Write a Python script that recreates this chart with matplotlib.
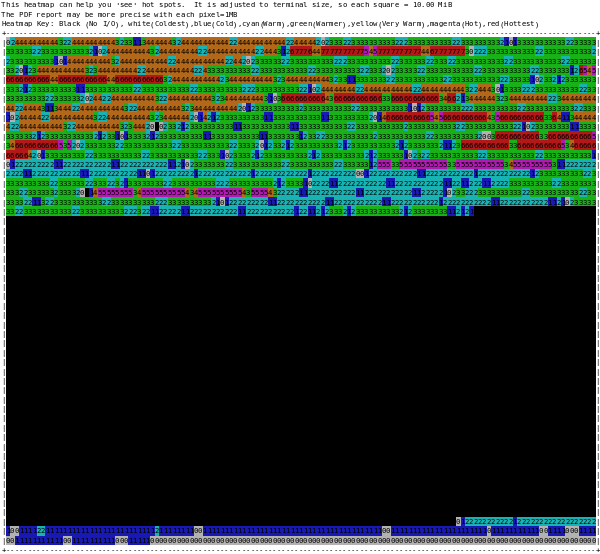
import numpy as np
import matplotlib
matplotlib.use('Agg')
import matplotlib.pyplot as plt
from matplotlib.colors import ListedColormap

header = [
    "This heatmap can help you 'see' hot spots.  It is adjusted to terminal size, so each square = 10.00 MiB",
    "The PDF report may be more precise with each pixel=1MB",
    "Heatmap Key: Black (No I/O), white(Coldest),blue(Cold),cyan(Warm),green(Warmer),yellow(Very Warm),magenta(Hot),red(Hottest)",
]

# one entry per terminal row, "4:10" = ten squares of 4, "." = no I/O
rows_top = [
    "02 4:10 3 22 4:10 3 2 33 11 3 4:6 3 2 4:11 22 4:11 22 4:5 202 333 22 3:10 222 3:10 22 3:9 2101 3:11 22 3:5",
    "3:6 22 3:11 2102 4:10 3 2 4:9 22 4:11 22 4:3 3 1 2 6 7:3 6 44 7:10 545 7:10 44 6 7:7 30 222 3:11 22 3:11 2",
    "2 3:10 101 4:10 3 2 4:11 22 4:11 22 44 202 3:6 22 3:10 222 3:10 22 3:6 22 333 22 3:11 22 3:11 22 3:6",
    "33 2012 3 4:11 323 4:9 22 4:11 22 4 3:10 22 3:11 22 3:10 22 333 202 3:5 22 3:11 22 3:11 22 3:7 12 6545",
    "6:10 44 6:11 44 6:11 32 4:11 23 4:10 323 4:10 32 33 11 3:7 22 3:11 22 3:11 22 3:5 102 33 212 3:7",
    "333 212 3:10 11 3:11 22 3:11 22 3:10 222 3:10 22 102 4:8 22 4:11 22 4:10 3 22 444 301 3333 222 3:10 22 33",
    "3:9 22 3:6 202 44 22 4:10 3 22 4:10 323 4:9 3103 6:10 43 6:11 33 6:11 34 66 213 4:6 323 4:9 22 3 4:8",
    "44 22 4:4 3 11 3 444 22 4:10 3 22 4:10 323 4:10 20 1 2 3:10 2 3:11 22 3:11 1012 3:8 222 3:10 22 3:11 22 333",
    "102 4:5 22 4:10 3 22 4:10 323 4:6 20 1 4 2 1 2 3:10 11 3:11 11 3:9 2014 6:10 545 6:10 4 3 5 6:10 33 64 11 3 4:5",
    "4 22 4:10 3 22 4:10 323 444 20.02 33 212 3:10 11 3:11 11 3:11 22 3:11 2 3:11 22 3:11 22 102 3:8 11 3:4",
    "3:6 212 3:11 212 33 101 3:4 212 3:10 11 3:11 11 3:7 1 2 33 22 3:11 2 3:11 22 3:10 200 3 6:10 33 6:10 5",
    "34 6:10 535 202 3:7 22 3:11 22 3:11 22 3:4 2012 33 212 3:10 212 3:10 212 3:7 2 11 2 3 6:11 33 6:10 534 6:5",
    "6:5 4201 3:9 22 3:11 22 3:11 22 333 102 3:4 212 3:10 212 3:10 212 3:6 102 3 22 3:11 22 3:11 22 3:11 1",
    "01 2:9 11 2:11 11 2:11 11 2102 3:7 22 3:11 22 3:10 22 3:6 12 555 33 5:11 33 5:11 34 5:9 3 11 2:7",
    "2:4 11 2:11 11 2:11 11 01 2:9 1 2:12 1 2:12 1 2:10 001 2:11 11 2:11 1 2:12 1 2 3:10 22 3",
    "3:10 22 3:6 22 333 22 321 3:8 22 3:10 222 3:10 212 3:4 10 2:4 11 2:11 11 2:11 11 22 11 222 11 2:4 3:10 22 3:8",
    "333 22 3:6 2 3:4 20.14 5:8 34 5:10 434 5:10 43 5:4 43 2:5 11 2:11 11 2:11 11 2:5 102 33 222 3:10 22 3:11 22 33",
    "3:4 22 11 3 22 3:11 22 3:10 222 3:10 2101 2:9 11 2:11 11 2:11 11 2:11 1 2:11 11 2:11 11 2102 3:5",
    "33 22 3:11 22 3:10 222 3 22 11 2:5 11 2:11 11 2:11 1 22 11 212 333 212 3:10 212 3:8 11 2121",
]
blank_rows = 32
rows_bottom = [
    ".:103 01 2:11 1 2:18",
    "1 00 1:4 22 1:25 2 1:8 00 1:41 00 1:22 0 1:11 00 1:4 000 1:4",
    "00 1:11 00 1:10 000 1:5 0:102",
]

# linux console palette, first one is the empty square
key_colors = ['#000000', '#b2b2b2', '#1818b2', '#18b2b2', '#18b218',
              '#b26818', '#b218b2', '#b21818', '#b21818']

n_cols = 135


def expand(spec):
    out = ''
    for tok in spec.split():
        if ':' in tok:
            ch, n = tok.split(':')
            out += ch * int(n)
        else:
            out += tok
    return out.ljust(n_cols, '.')[:n_cols]


rows = [expand(r) for r in rows_top] + ['.' * n_cols] * blank_rows + [expand(r) for r in rows_bottom]
values = np.array([[-1 if c == '.' else int(c) for c in r] for r in rows])

n_lines = len(rows) + 5
plt.rcParams['font.family'] = 'DejaVu Sans Mono'
fontsize = 5.23

fig = plt.figure(figsize=(6.0, 5.54), dpi=100)
ax = fig.add_axes([0, 0, 1, 1])
ax.imshow(values, cmap=ListedColormap(key_colors), vmin=-1, vmax=7, interpolation='nearest',
          aspect='auto', extent=[0, n_cols, 4 + len(rows), 4])
# one terminal column is 4.37 px wide, the first square starts at 5.6 px
ax.set_xlim(-5.6 / 4.37, (600 - 5.6) / 4.37)
ax.set_ylim(n_lines, 0)
ax.axis('off')


def put_line(line, text, start=-1):
    for i, ch in enumerate(text):
        if ch != ' ':
            # baseline so the letters of a line sit level
            ax.text(start + i + 0.5, line + 0.78, ch, ha='center', va='baseline',
                    fontsize=fontsize, color='black')


for i, text in enumerate(header):
    put_line(i, text)
rule = '+' + '-' * n_cols + '+'
put_line(3, rule)
put_line(n_lines - 1, rule)

for i, r in enumerate(rows):
    put_line(i + 4, '|')
    put_line(i + 4, '|', start=n_cols)
    for j, c in enumerate(r):
        if c != '.':
            put_line(i + 4, c, start=j)

fig.savefig('out.png', dpi=100)
